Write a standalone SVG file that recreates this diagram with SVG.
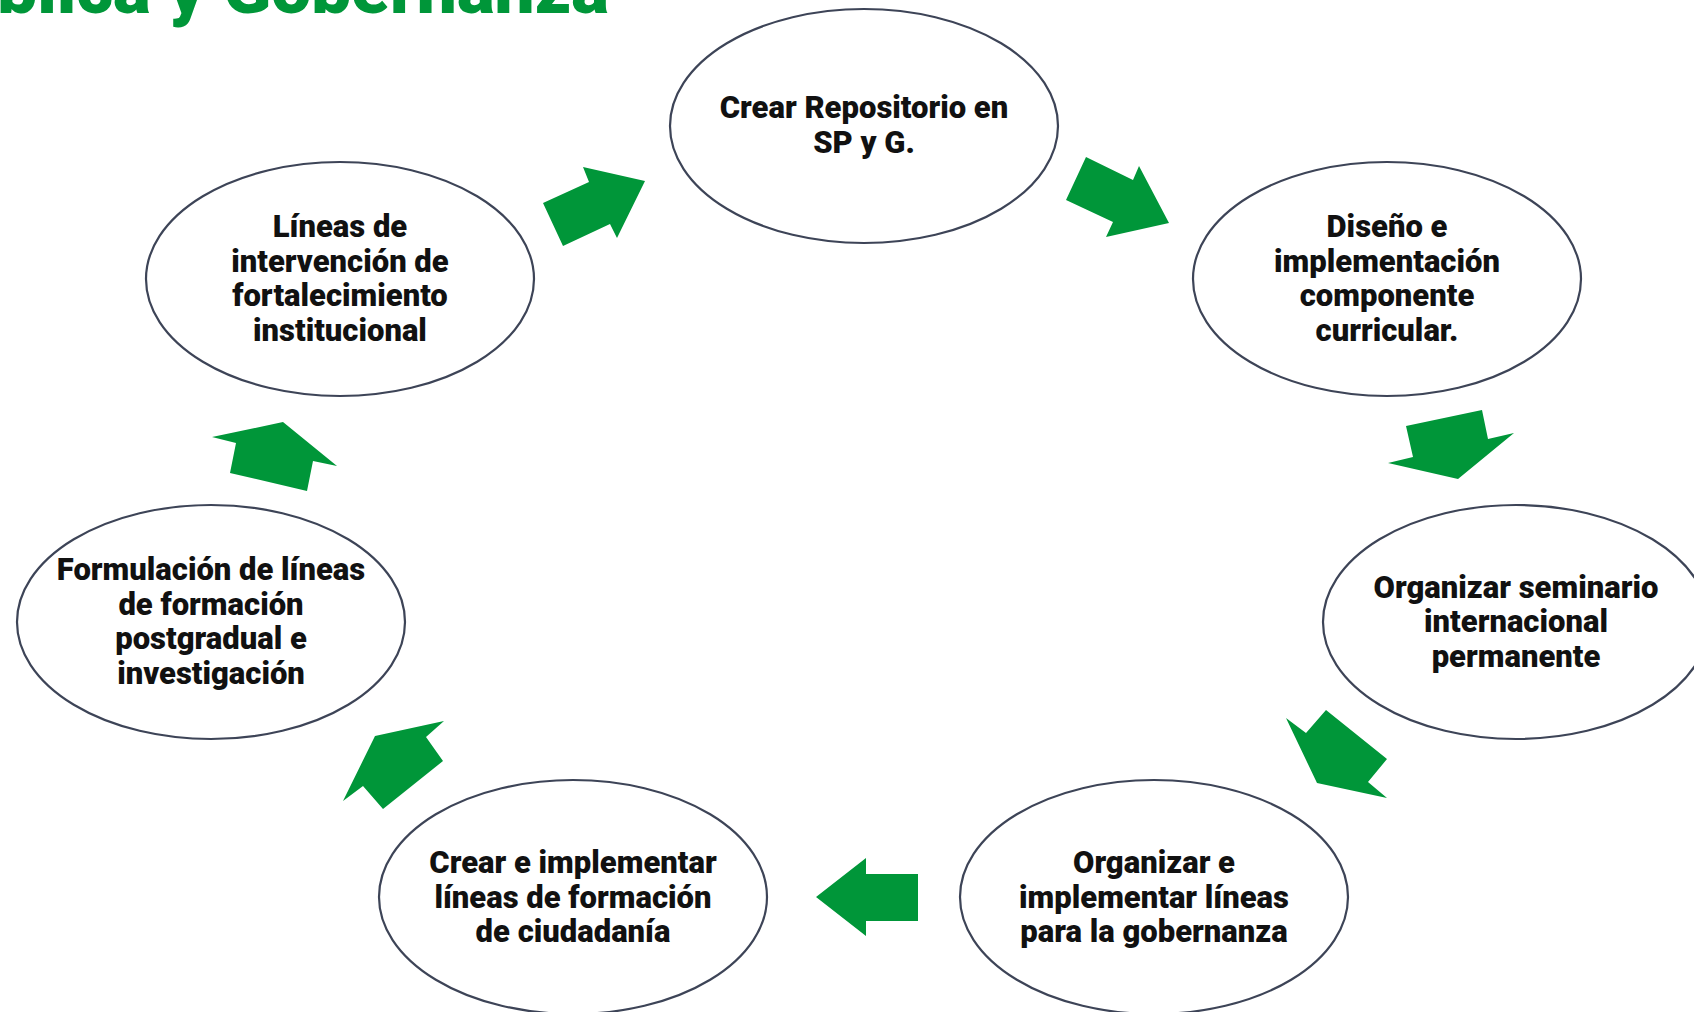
<svg xmlns="http://www.w3.org/2000/svg" width="1694" height="1012" viewBox="0 0 1694 1012">
<style>
.node ellipse{fill:#ffffff;stroke:#3d4457;stroke-width:2.2}
.node text{font-family:Roboto,"Liberation Sans",sans-serif;font-weight:900;font-size:31px;fill:#111111;text-anchor:middle}
.arrow{fill:#009639}
.title{font-family:Roboto,"Liberation Sans",sans-serif;font-weight:900;font-size:71px;fill:#009639}
</style>
<rect width="1694" height="1012" fill="#ffffff"/>
<text class="title" x="609" y="13" text-anchor="end">Pública y Gobernanza</text>
<g id="connectors">
<polygon class="arrow" points="543,203 589,182 583,167 645,181 617,238 610,224 563,246"/>
<polygon class="arrow" points="1086,157 1133,180 1139,166 1169,223 1106,237 1113,222 1066,200"/>
<polygon class="arrow" points="1406,426 1482,410 1488,439 1514,433 1458,479 1388,463 1413,457"/>
<polygon class="arrow" points="1286,718 1306,733 1326,710 1387,759 1368,782 1387,798 1317,783"/>
<polygon class="arrow" points="816,897 866,858 866,874 918,874 918,921 866,921 866,936"/>
<polygon class="arrow" points="375,736 444,721 426,737 443,761 383,809 363,786 343,801"/>
<polygon class="arrow" points="212,437 283,422 337,466 313,461 307,491 230,473 236,443"/>
</g>
<g id="node1" class="node">
<ellipse cx="864" cy="126" rx="194" ry="117"/>
<text x="864" y="118">Crear Repositorio en</text>
<text x="864" y="153">SP y G.</text>
</g>
<g id="node2" class="node">
<ellipse cx="1387" cy="279" rx="194" ry="117"/>
<text x="1387" y="237">Diseño e</text>
<text x="1387" y="272">implementación</text>
<text x="1387" y="306">componente</text>
<text x="1387" y="341">curricular.</text>
</g>
<g id="node3" class="node">
<ellipse cx="1516" cy="622" rx="193" ry="117"/>
<text x="1516" y="598">Organizar seminario</text>
<text x="1516" y="632">internacional</text>
<text x="1516" y="667">permanente</text>
</g>
<g id="node4" class="node">
<ellipse cx="1154" cy="897" rx="194" ry="117"/>
<text x="1154" y="873">Organizar e</text>
<text x="1154" y="908">implementar líneas</text>
<text x="1154" y="942">para la  gobernanza</text>
</g>
<g id="node5" class="node">
<ellipse cx="573" cy="897" rx="194" ry="117"/>
<text x="573" y="873">Crear e implementar</text>
<text x="573" y="908">líneas de formación</text>
<text x="573" y="942">de ciudadanía</text>
</g>
<g id="node6" class="node">
<ellipse cx="211" cy="622" rx="194" ry="117"/>
<text x="211" y="580">Formulación de líneas</text>
<text x="211" y="615">de formación</text>
<text x="211" y="649">postgradual e</text>
<text x="211" y="684">investigación</text>
</g>
<g id="node7" class="node">
<ellipse cx="340" cy="279" rx="194" ry="117"/>
<text x="340" y="237">Líneas de</text>
<text x="340" y="272">intervención de</text>
<text x="340" y="306">fortalecimiento</text>
<text x="340" y="341">institucional</text>
</g>
</svg>
